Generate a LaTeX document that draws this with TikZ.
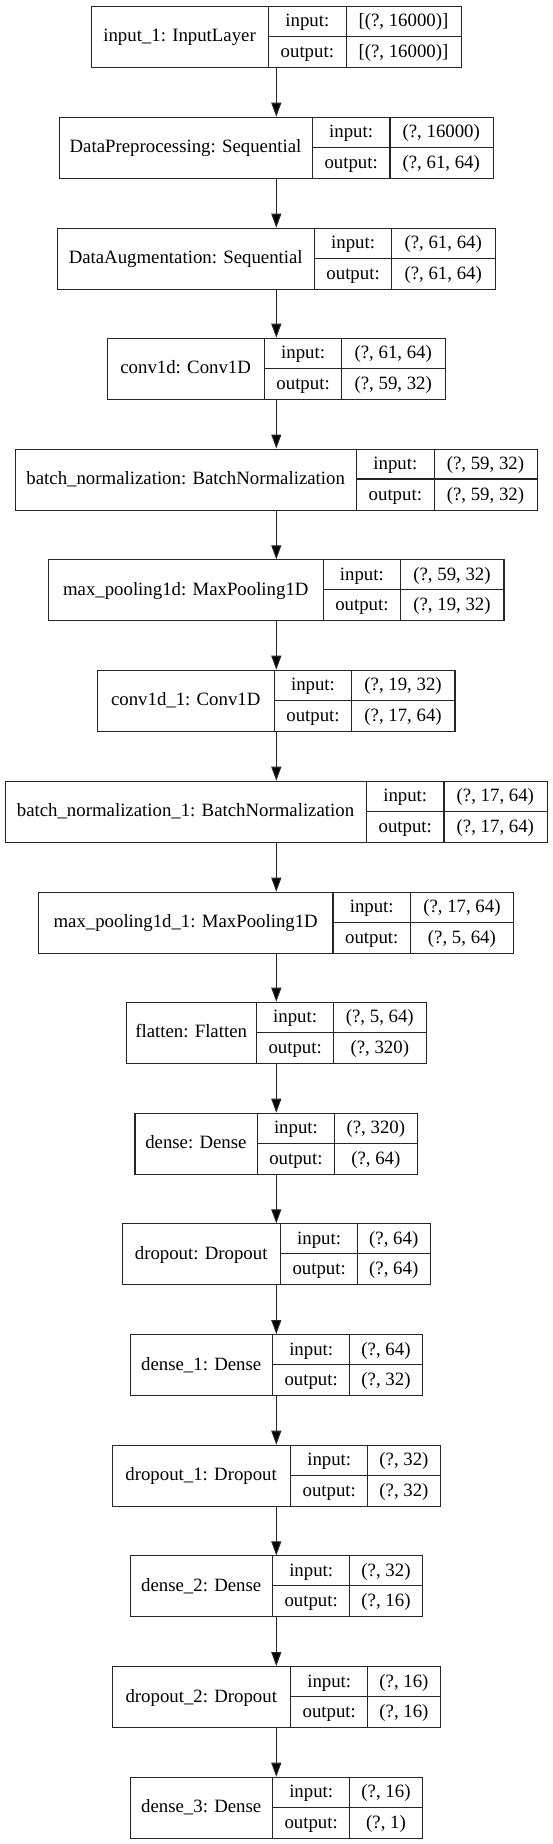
\documentclass[tikz,border=0pt]{standalone}
\usepackage{fontspec}
\setmainfont{Liberation Serif}
\usetikzlibrary{arrows.meta}
\tikzset{
  box/.style={draw=black!85, line width=1.1pt, rectangle, inner sep=0pt, minimum height=61pt},
  ln/.style={draw=black!85, line width=1.1pt},
  txt/.style={inner sep=0pt, text height=14pt, text depth=2.5pt, font=\fontsize{18.8}{22}\selectfont},
  arr/.style={draw=black!85, line width=1.1pt, -{Triangle[length=14pt, width=10pt, fill=black]}}
}
\newcommand\layer[9]{%
  \node[box, minimum width={(#6-#3)*1pt}, anchor=north west] (#1) at (#3,#2) {};
  \draw[ln] (#4,#2) -- (#4,#2+61);
  \draw[ln] (#5,#2) -- (#5,#2+61);
  \draw[ln] (#4,#2+30.5) -- (#6,#2+30.5);
  \node[txt] (#1-l) at ({(#3+#4)/2},#2+30.5) {#7};
  \node[txt] (#1-ik) at ({(#4+#5)/2},#2+15.25) {input:};
  \node[txt] (#1-ok) at ({(#4+#5)/2},#2+45.75) {output:};
  \node[txt] (#1-iv) at ({(#5+#6)/2},#2+15.25) {#8};
  \node[txt] (#1-ov) at ({(#5+#6)/2},#2+45.75) {#9};
}
\begin{document}
\begin{tikzpicture}[x=1pt,y=-1pt]
\fill[white] (0,0) rectangle (552,1844);
\useasboundingbox (0,0) rectangle (552,1844);
\coordinate (ax) at (276.3,0);
\layer{b1}{5.7}{90.8}{268.3}{346.4}{460.5}{input\_1: InputLayer}{[(?, 16000)]}{[(?, 16000)]}
\layer{b2}{116.7}{58.8}{312.3}{390.0}{492.5}{DataPreprocessing: Sequential}{(?, 16000)}{(?, 61, 64)}
\layer{b3}{227.7}{57.0}{314.4}{391.8}{494.6}{DataAugmentation: Sequential}{(?, 61, 64)}{(?, 61, 64)}
\layer{b4}{337.7}{107.0}{264.3}{341.9}{444.6}{conv1d: Conv1D}{(?, 61, 64)}{(?, 59, 32)}
\layer{b5}{448.5}{14.8}{356.6}{434.1}{536.8}{batch\_normalization: BatchNormalization}{(?, 59, 32)}{(?, 59, 32)}
\layer{b6}{559.3}{48.3}{323.2}{400.6}{503.4}{max\_pooling1d: MaxPooling1D}{(?, 59, 32)}{(?, 19, 32)}
\layer{b7}{669.7}{97.2}{274.3}{351.7}{454.4}{conv1d\_1: Conv1D}{(?, 19, 32)}{(?, 17, 64)}
\layer{b8}{780.7}{4.5}{366.5}{444.0}{546.7}{batch\_normalization\_1: BatchNormalization}{(?, 17, 64)}{(?, 17, 64)}
\layer{b9}{891.7}{38.3}{333.0}{410.5}{513.3}{max\_pooling1d\_1: MaxPooling1D}{(?, 17, 64)}{(?, 5, 64)}
\layer{b10}{1001.7}{125.7}{256.6}{333.7}{425.9}{flatten: Flatten}{(?, 5, 64)}{(?, 320)}
\layer{b11}{1112.7}{134.4}{257.4}{334.5}{417.2}{dense: Dense}{(?, 320)}{(?, 64)}
\layer{b12}{1223.3}{121.8}{280.6}{357.7}{429.8}{dropout: Dropout}{(?, 64)}{(?, 64)}
\layer{b13}{1334}{129.9}{272.5}{349.9}{422.1}{dense\_1: Dense}{(?, 64)}{(?, 32)}
\layer{b14}{1444.7}{111.6}{290.7}{367.8}{440.1}{dropout\_1: Dropout}{(?, 32)}{(?, 32)}
\layer{b15}{1555.3}{129.9}{272.5}{349.9}{422.1}{dense\_2: Dense}{(?, 32)}{(?, 16)}
\layer{b16}{1666}{111.9}{290.7}{367.8}{440.1}{dropout\_2: Dropout}{(?, 16)}{(?, 16)}
\layer{b17}{1776.7}{129.9}{272.5}{349.9}{422.1}{dense\_3: Dense}{(?, 16)}{(?, 1)}
\foreach \a/\b in {b1/b2,b2/b3,b3/b4,b4/b5,b5/b6,b6/b7,b7/b8,b8/b9,b9/b10,b10/b11,b11/b12,b12/b13,b13/b14,b14/b15,b15/b16,b16/b17}
  \draw[arr] (\a.south -| ax) -- (\b.north -| ax);
\end{tikzpicture}
\end{document}
